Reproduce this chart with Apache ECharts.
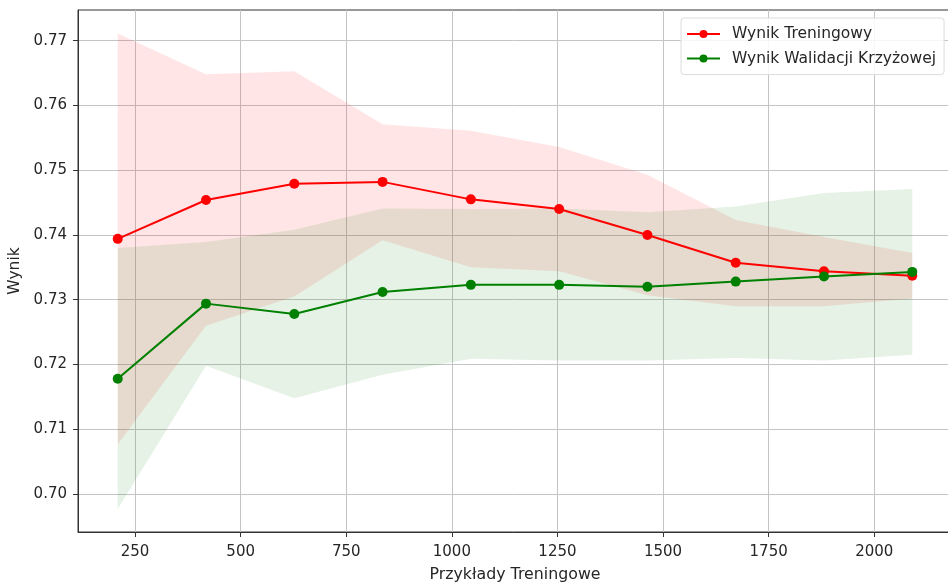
<!DOCTYPE html>
<html>
<head>
<meta charset="utf-8">
<script src="https://cdn.jsdelivr.net/npm/echarts@6/dist/echarts.min.js"></script>
<style>
  html, body { margin: 0; padding: 0; background: #fff; }
  #chart { width: 948px; height: 582px; }
</style>
</head>
<body>
<div id="chart"></div>
<script>
// rozmiary zbioru treningowego
var trainSizes = [209, 418, 627, 836, 1045, 1254, 1463, 1672, 1881, 2090];
// wynik treningowy (srednia i pasmo)
var trainMean  = [0.7394, 0.7454, 0.7479, 0.7482, 0.7455, 0.7440, 0.7400, 0.7357, 0.7344, 0.7337];
var trainUpper = [0.7711, 0.7648, 0.7653, 0.7571, 0.7561, 0.7536, 0.7493, 0.7423, 0.7397, 0.7372];
var trainLower = [0.7077, 0.7260, 0.7305, 0.7392, 0.7350, 0.7344, 0.7307, 0.7290, 0.7290, 0.7302];
// wynik walidacji krzyzowej
var valMean  = [0.7178, 0.7294, 0.7278, 0.7312, 0.7323, 0.7323, 0.7320, 0.7328, 0.7336, 0.7343];
var valUpper = [0.7380, 0.7389, 0.7408, 0.7441, 0.7440, 0.7441, 0.7435, 0.7444, 0.7465, 0.7471];
var valLower = [0.6977, 0.7198, 0.7148, 0.7184, 0.7209, 0.7206, 0.7206, 0.7210, 0.7206, 0.7215];
// podzialki osi
var xTicks = [250, 500, 750, 1000, 1250, 1500, 1750, 2000];
var yTicks = [0.70, 0.71, 0.72, 0.73, 0.74, 0.75, 0.76, 0.77];

function pairs(xs, ys) {
    return xs.map(function (x, i) { return [x, ys[i]]; });
}

// pasmo (fill_between) jako wielokat liczony przez skale osi
function bandRenderer(up, low, color) {
    return function (params, api) {
        var pts = [];
        for (var i = 0; i < trainSizes.length; i++) {
            pts.push(api.coord([trainSizes[i], up[i]]));
        }
        for (var j = trainSizes.length - 1; j >= 0; j--) {
            pts.push(api.coord([trainSizes[j], low[j]]));
        }
        return {
            type: 'polygon',
            shape: { points: pts },
            style: { fill: color, stroke: null }
        };
    };
}

var chart = echarts.init(document.getElementById('chart'), null, { renderer: 'canvas' });
var font = 'DejaVu Sans';
var txt = '#262626';

var option = {
    animation: false,
    backgroundColor: '#fff',
    grid: {
        left: 78, top: 10, width: 874, height: 522,
        outerBoundsMode: 'none', containLabel: false,
        show: true, borderColor: '#333', borderWidth: 1, backgroundColor: 'transparent'
    },
    legend: {
        data: ['Wynik Treningowy', 'Wynik Walidacji Krzyżowej'],
        orient: 'vertical',
        left: 681, top: 18,
        padding: [8, 8, 8, 5],
        itemWidth: 33, itemHeight: 10, itemGap: 8.6,
        borderColor: '#dcdcdc', borderWidth: 1, borderRadius: 3,
        backgroundColor: 'rgba(255,255,255,0.85)',
        textStyle: { fontFamily: font, fontSize: 15.5, color: txt, lineHeight: 14, padding: [0, 0, 0, 7] }
    },
    xAxis: {
        type: 'value',
        min: 114.95, max: 2184.05,
        name: 'Przykłady Treningowe',
        nameLocation: 'middle', nameGap: 35,
        nameTextStyle: { fontFamily: font, fontSize: 15.8, color: txt },
        axisLine: { show: true, lineStyle: { color: '#333' } },
        axisTick: { show: true, length: 5, customValues: xTicks, lineStyle: { color: '#333' } },
        axisLabel: {
            customValues: xTicks, fontFamily: font, fontSize: 15, color: txt, margin: 13,
            formatter: function (v) { return String(v); }
        },
        splitLine: { show: true, lineStyle: { color: '#c4c4c4', width: 1 } }
    },
    yAxis: {
        type: 'value',
        min: 0.694136, max: 0.77474,
        name: 'Wynik',
        nameLocation: 'middle', nameGap: 53,
        nameTextStyle: { fontFamily: font, fontSize: 15.5, color: txt },
        axisLine: { show: true, lineStyle: { color: '#333' } },
        axisTick: { show: true, length: 5, customValues: yTicks, lineStyle: { color: '#333' } },
        axisLabel: {
            customValues: yTicks, fontFamily: font, fontSize: 15, color: txt, margin: 11,
            formatter: function (v) { return v.toFixed(2); }
        },
        splitLine: { show: true, lineStyle: { color: '#c4c4c4', width: 1 } }
    },
    series: [
        {
            name: 'trainBand', type: 'custom', silent: true,
            data: [[trainSizes[0], trainMean[0]]],
            renderItem: bandRenderer(trainUpper, trainLower, 'rgba(255,0,0,0.1)')
        },
        {
            name: 'valBand', type: 'custom', silent: true,
            data: [[trainSizes[0], valMean[0]]],
            renderItem: bandRenderer(valUpper, valLower, 'rgba(0,128,0,0.1)')
        },
        {
            name: 'Wynik Treningowy', type: 'line',
            data: pairs(trainSizes, trainMean),
            symbol: 'circle', symbolSize: 10,
            itemStyle: { color: '#ff0000' },
            lineStyle: { color: '#ff0000', width: 2 }
        },
        {
            name: 'Wynik Walidacji Krzyżowej', type: 'line',
            data: pairs(trainSizes, valMean),
            symbol: 'circle', symbolSize: 10,
            itemStyle: { color: '#008000' },
            lineStyle: { color: '#008000', width: 2 }
        }
    ]
};
chart.setOption(option);
</script>
</body>
</html>
